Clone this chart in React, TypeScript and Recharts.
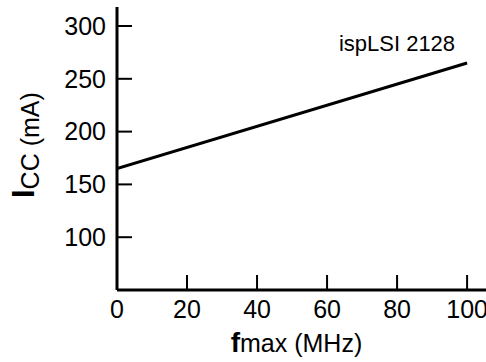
import { LineChart, Line, XAxis, YAxis } from "recharts";

const fmax = [0, 100];
const icc = [165, 265];
const xTicks = [0, 20, 40, 60, 80, 100];
const yTicks = [100, 150, 200, 250, 300];
const seriesName = "ispLSI 2128";

const data = fmax.map((f, i) => ({ f, icc: icc[i] }));

const FONT = '"Liberation Sans", Arial, sans-serif';
const TICK_LEN = 15;
const X_MARGIN = 10;
const Y_MARGIN = 11;

function XTick(props: any) {
  const { x, y, payload } = props;
  const axisY = y - X_MARGIN;
  return (
    <g>
      <line x1={x} x2={x} y1={axisY} y2={axisY - TICK_LEN} stroke="#000" strokeWidth={2} />
      <text x={x} y={y} dy="0.71em" textAnchor="middle" fontSize={25} fontFamily={FONT} fill="#000">
        {payload.value}
      </text>
    </g>
  );
}

function YTick(props: any) {
  const { x, y, payload } = props;
  const axisX = x + Y_MARGIN;
  return (
    <g>
      <line x1={axisX} x2={axisX + TICK_LEN} y1={y} y2={y} stroke="#000" strokeWidth={2} />
      <text x={x} y={y} dy="0.355em" textAnchor="end" fontSize={25} fontFamily={FONT} fill="#000">
        {payload.value}
      </text>
    </g>
  );
}

function XLabel(props: any) {
  const { viewBox } = props;
  const cx = viewBox.x + viewBox.width / 2 - 5;
  return (
    <text x={cx} y={352} textAnchor="middle" fontFamily={FONT} fill="#000">
      <tspan fontSize={28} fontWeight="bold">f</tspan>
      <tspan fontSize={25}>max (MHz)</tspan>
    </text>
  );
}

function YLabel() {
  const x = 34;
  const y = 198;
  return (
    <text x={x} y={y} transform={`rotate(-90, ${x}, ${y})`} fontFamily={FONT} fill="#000">
      <tspan fontSize={31} fontWeight="bold">I</tspan>
      <tspan fontSize={25} dy={5}>CC (mA)</tspan>
    </text>
  );
}

function EndLabel(props: any) {
  const { x, y, index } = props;
  if (index !== fmax.length - 1) return null;
  return (
    <text x={x - 12} y={y - 12} textAnchor="end" fontSize={22} fontFamily={FONT} fill="#000">
      {seriesName}
    </text>
  );
}

export default function App() {
  return (
    <div style={{ position: "absolute", left: 0, top: 0 }}>
      <LineChart width={486} height={362} data={data} margin={{ top: 7, right: 0, left: 0, bottom: 0 }}>
        <XAxis
          dataKey="f"
          type="number"
          domain={[0, 105.4]}
          allowDataOverflow
          ticks={xTicks}
          height={72}
          tickSize={0}
          tickMargin={X_MARGIN}
          tick={<XTick />}
          axisLine={{ stroke: "#000", strokeWidth: 3 }}
          label={<XLabel />}
        />
        <YAxis
          type="number"
          domain={[50, 318]}
          allowDataOverflow
          ticks={yTicks}
          width={117}
          tickSize={0}
          tickMargin={Y_MARGIN}
          tick={<YTick />}
          axisLine={{ stroke: "#000", strokeWidth: 3 }}
          label={<YLabel />}
        />
        <Line
          dataKey="icc"
          stroke="#000"
          strokeWidth={3}
          dot={false}
          label={<EndLabel />}
          isAnimationActive={false}
        />
      </LineChart>
    </div>
  );
}
